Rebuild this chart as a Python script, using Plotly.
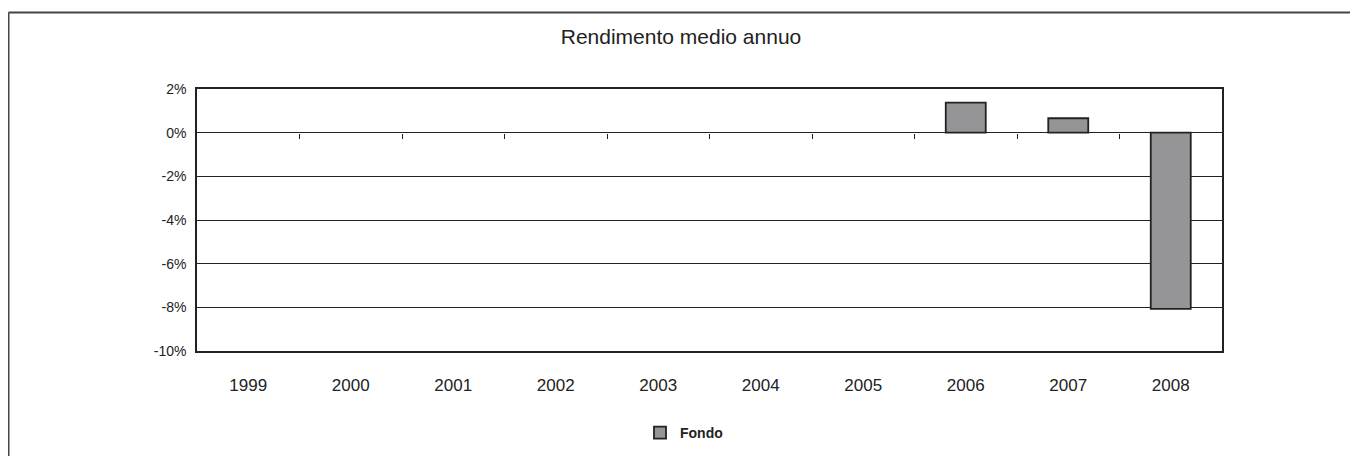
import plotly.graph_objects as go

years = ["1999", "2000", "2001", "2002", "2003", "2004", "2005", "2006", "2007", "2008"]
fondo = [None, None, None, None, None, None, None, 0.0138, 0.0066, -0.0807]
y_tick_vals = [-0.10, -0.08, -0.06, -0.04, -0.02, 0.0, 0.02]
y_tick_text = ["-10%", "-8%", "-6%", "-4%", "-2%", "0%", "2%"]
boundary_ticks = [0.5, 1.5, 2.5, 3.5, 4.5, 5.5, 6.5, 7.5, 8.5]

FONT = "Liberation Sans, Arial, sans-serif"
INK = "#222222"

OFF = 8  # default body margin of the page
W, H = 1358 - OFF, 456 - OFF
L, R, T, B = 197 - OFF, 136, 89 - OFF, 105
pw, ph = W - L - R, H - T - B

def px(x):
    return (x - OFF - L) / pw

def py(y):
    return (H - B - (y - OFF)) / ph

fig = go.Figure()
fig.add_trace(go.Bar(
    x=years, y=fondo, name="<b>Fondo</b>",
    marker=dict(color="#959597", line=dict(color=INK, width=1.8)),
))
# invisible trace to host the zero-line tick axis
fig.add_trace(go.Scatter(x=[], y=[], xaxis="x2", showlegend=False, hoverinfo="skip"))

zero_pos = (0 - y_tick_vals[0]) / (y_tick_vals[-1] - y_tick_vals[0])

fig.update_layout(
    width=W, height=H,
    margin=dict(l=L, r=R, t=T, b=B, pad=0),
    paper_bgcolor="white", plot_bgcolor="white",
    font=dict(family=FONT, color=INK),
    bargap=0.61,
    title=dict(text="Rendimento medio annuo", x=(681 - OFF) / W, xanchor="center",
               y=1 - (37 - OFF) / H, yanchor="middle", font=dict(size=21, color=INK)),
    xaxis=dict(type="category", range=[-0.5, 9.5], showgrid=False, zeroline=False,
               showline=True, linecolor=INK, linewidth=1.5, mirror=True,
               ticks="outside", ticklen=18, tickcolor="rgba(0,0,0,0)",
               tickfont=dict(size=17, color=INK)),
    xaxis2=dict(overlaying="x", anchor="free", position=zero_pos, range=[-0.5, 9.5],
                tickmode="array", tickvals=boundary_ticks, showticklabels=False,
                ticks="outside", ticklen=5, tickwidth=1, tickcolor=INK,
                showgrid=False, zeroline=False, showline=False),
    yaxis=dict(range=[y_tick_vals[0], y_tick_vals[-1]], tickmode="array",
               tickvals=y_tick_vals, ticktext=y_tick_text,
               showgrid=True, gridcolor=INK, gridwidth=1.2, zeroline=False,
               showline=True, linecolor=INK, linewidth=1.5, mirror=True,
               ticks="outside", ticklen=6, tickcolor="rgba(0,0,0,0)",
               tickfont=dict(size=14, color=INK)),
    showlegend=True,
    legend=dict(orientation="h", xref="container", yref="container",
                x=(684 - OFF) / W, y=1 - (433 - OFF) / H, xanchor="center", yanchor="middle",
                font=dict(size=14, color=INK), bgcolor="rgba(0,0,0,0)"),
    shapes=[
        dict(type="line", xref="paper", yref="paper", x0=px(8.5), x1=px(1400),
             y0=py(12.5), y1=py(12.5), line=dict(color="#444444", width=2)),
        dict(type="line", xref="paper", yref="paper", x0=px(8.5), x1=px(8.5),
             y0=py(12.5), y1=py(480), line=dict(color="#444444", width=2)),
    ],
)

fig.write_html("out.html")
